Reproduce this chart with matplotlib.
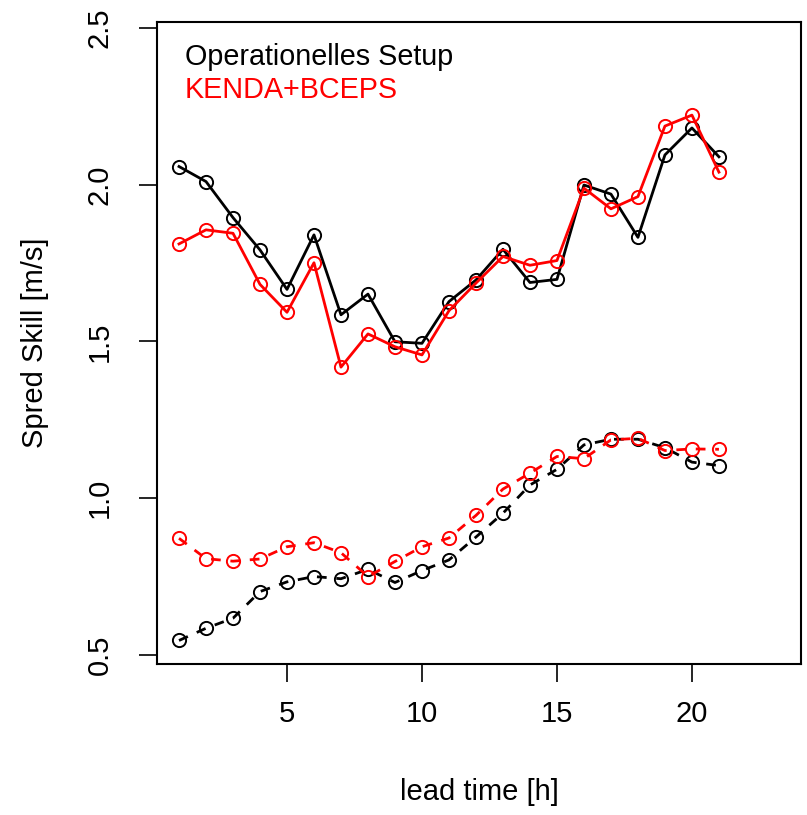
import matplotlib
matplotlib.use("Agg")
import matplotlib.pyplot as plt

plt.rcParams['font.family'] = ['Liberation Sans', 'DejaVu Sans']

# lead times
lead = list(range(1, 22))

# solid lines: Operationelles Setup / KENDA+BCEPS (upper curves)
oper_solid = [2.058, 2.010, 1.895, 1.792, 1.666, 1.840, 1.585, 1.651, 1.499, 1.494, 1.627,
              1.696, 1.794, 1.688, 1.698, 1.999, 1.970, 1.832, 2.095, 2.181, 2.089]
kenda_solid = [1.811, 1.856, 1.845, 1.682, 1.593, 1.751, 1.418, 1.524, 1.483, 1.457, 1.598,
               1.686, 1.771, 1.743, 1.758, 1.989, 1.923, 1.962, 2.187, 2.222, 2.040]

# dashed lines (lower curves)
oper_dash = [0.546, 0.585, 0.617, 0.702, 0.733, 0.750, 0.743, 0.773, 0.731, 0.769, 0.803,
             0.876, 0.952, 1.042, 1.092, 1.170, 1.188, 1.188, 1.161, 1.115, 1.104]
kenda_dash = [0.872, 0.807, 0.799, 0.806, 0.845, 0.858, 0.826, 0.750, 0.798, 0.845, 0.873,
              0.945, 1.029, 1.080, 1.133, 1.126, 1.186, 1.191, 1.152, 1.157, 1.156]

xticks = [5, 10, 15, 20]
yticks = [0.5, 1.0, 1.5, 2.0, 2.5]

fig = plt.figure(figsize=(8.07, 8.15), dpi=100)
ax = fig.add_axes([157 / 807, 1 - 664 / 815, 644 / 807, 642 / 815])

style = dict(marker='o', markersize=9.5, fillstyle='none', markeredgewidth=1.4, linewidth=2.0)

ax.plot(lead, oper_solid, color='black', **style)
ax.plot(lead, kenda_solid, color='red', **style)
ax.plot(lead, oper_dash, color='black', dashes=(3.5, 3.5), **style)
ax.plot(lead, kenda_dash, color='red', dashes=(3.5, 3.5), **style)

ax.set_xlim(0.185, 24.04)
ax.set_ylim(0.471, 2.519)
ax.set_xticks(xticks)
ax.set_xticklabels([str(t) for t in xticks])
ax.set_yticks(yticks)
ax.set_yticklabels(['%.1f' % t for t in yticks], rotation=90, va='center')

for s in ax.spines.values():
    s.set_linewidth(1.5)
ax.tick_params(axis='both', labelsize=21, length=13, width=1.2)
ax.tick_params(axis='x', pad=13)
ax.tick_params(axis='y', pad=18)

ax.set_xlabel('lead time [h]', fontsize=21, va='center')
ax.xaxis.set_label_coords(0.5, (664 - 792) / 642)
ax.set_ylabel('Spred Skill [m/s]', fontsize=21, va='center', ha='center')
ax.yaxis.set_label_coords((35 - 157) / 644, 0.5)

# legend as plain text
fig.text(185 / 807, 1 - 65 / 815, 'Operationelles Setup', fontsize=20.7, color='black', va='baseline')
fig.text(185 / 807, 1 - 98 / 815, 'KENDA+BCEPS', fontsize=20.7, color='red', va='baseline')

fig.savefig('out.png', dpi=100)
